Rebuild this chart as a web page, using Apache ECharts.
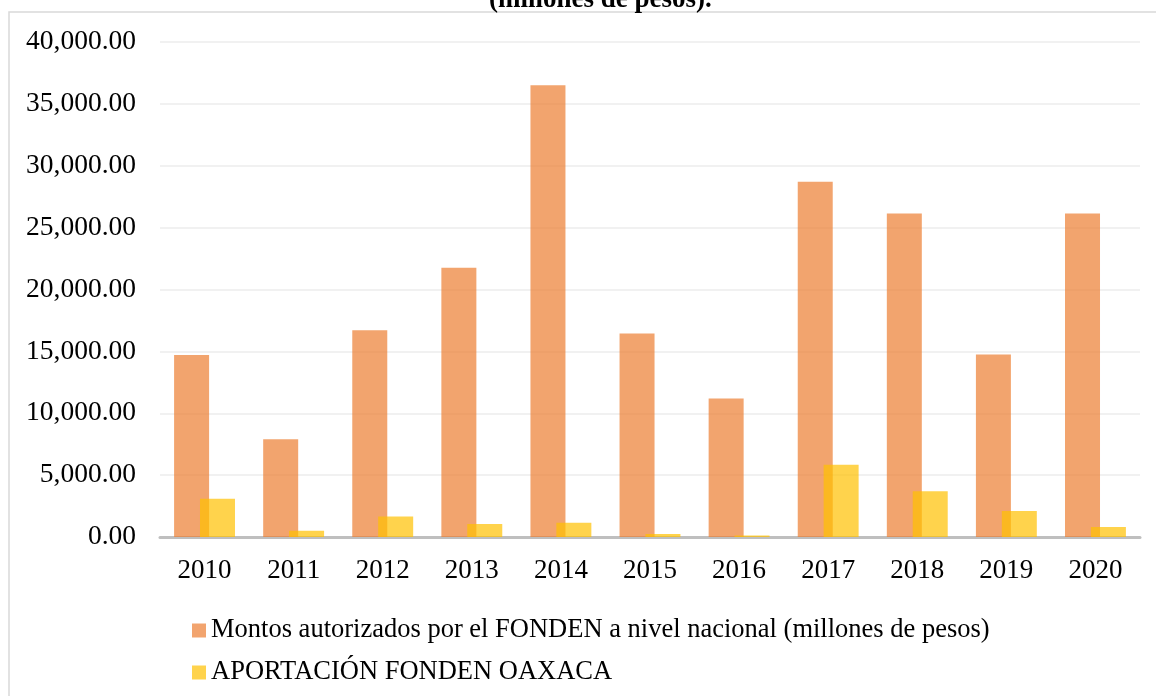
<!DOCTYPE html>
<html>
<head>
<meta charset="utf-8">
<script src="https://cdn.jsdelivr.net/npm/echarts@6/dist/echarts.min.js"></script>
<style>
  html, body { margin: 0; padding: 0; background: #fff; }
  #chart { width: 1156px; height: 696px; }
</style>
</head>
<body>
<div id="chart"></div>
<script>
const years = ['2010', '2011', '2012', '2013', '2014', '2015', '2016', '2017', '2018', '2019', '2020'];
const nacional = [14700, 7900, 16700, 21750, 36500, 16450, 11200, 28700, 26150, 14750, 26150];
const oaxaca = [3100, 500, 1650, 1050, 1150, 250, 120, 5830, 3700, 2100, 800];
const seriesNames = [
  'Montos autorizados por el FONDEN a nivel nacional (millones de pesos)',
  'APORTACIÓN FONDEN OAXACA'
];

const font = 'Liberation Serif, Times New Roman, serif';
const chart = echarts.init(document.getElementById('chart'));

const fmt = v => v.toLocaleString('en-US', { minimumFractionDigits: 2, maximumFractionDigits: 2 });

chart.setOption({
  backgroundColor: '#fff',
  animation: false,
  title: {
    text: '(millones de pesos).',
    left: 484,
    top: -18,
    textStyle: { fontFamily: font, fontSize: 27, fontWeight: 'bold', color: '#000' }
  },
  graphic: [{
    type: 'rect',
    shape: { x: 9, y: 12, width: 1170, height: 700 },
    style: { fill: 'none', stroke: '#d9d9d9', lineWidth: 1.5 },
    silent: true
  }],
  grid: { left: 160, right: 16, top: 42, bottom: 159 },
  legend: {
    orient: 'vertical',
    left: 187,
    top: 612,
    itemWidth: 14,
    itemHeight: 14,
    itemGap: 15,
    icon: 'rect',
    textStyle: { fontFamily: font, fontSize: 26.5, color: '#000' },
    data: seriesNames
  },
  xAxis: {
    type: 'category',
    data: years,
    axisLine: { lineStyle: { color: '#bfbfbf', width: 3 } },
    axisTick: { show: false },
    axisLabel: { fontFamily: font, fontSize: 27, color: '#000', margin: 20 }
  },
  yAxis: {
    type: 'value',
    min: 0,
    max: 40000,
    interval: 5000,
    axisLine: { show: false },
    axisTick: { show: false },
    axisLabel: { fontFamily: font, fontSize: 27.5, color: '#000', margin: 24, formatter: fmt },
    splitLine: { lineStyle: { color: '#ececec', width: 1.5 } }
  },
  series: [
    {
      name: seriesNames[0],
      type: 'bar',
      data: nacional,
      barWidth: 35,
      barGap: '-26%',
      itemStyle: { color: '#ED7D31', opacity: 0.7 }
    },
    {
      name: seriesNames[1],
      type: 'bar',
      data: oaxaca,
      barWidth: 35,
      itemStyle: { color: '#FFC000', opacity: 0.7 }
    }
  ]
});
</script>
</body>
</html>
